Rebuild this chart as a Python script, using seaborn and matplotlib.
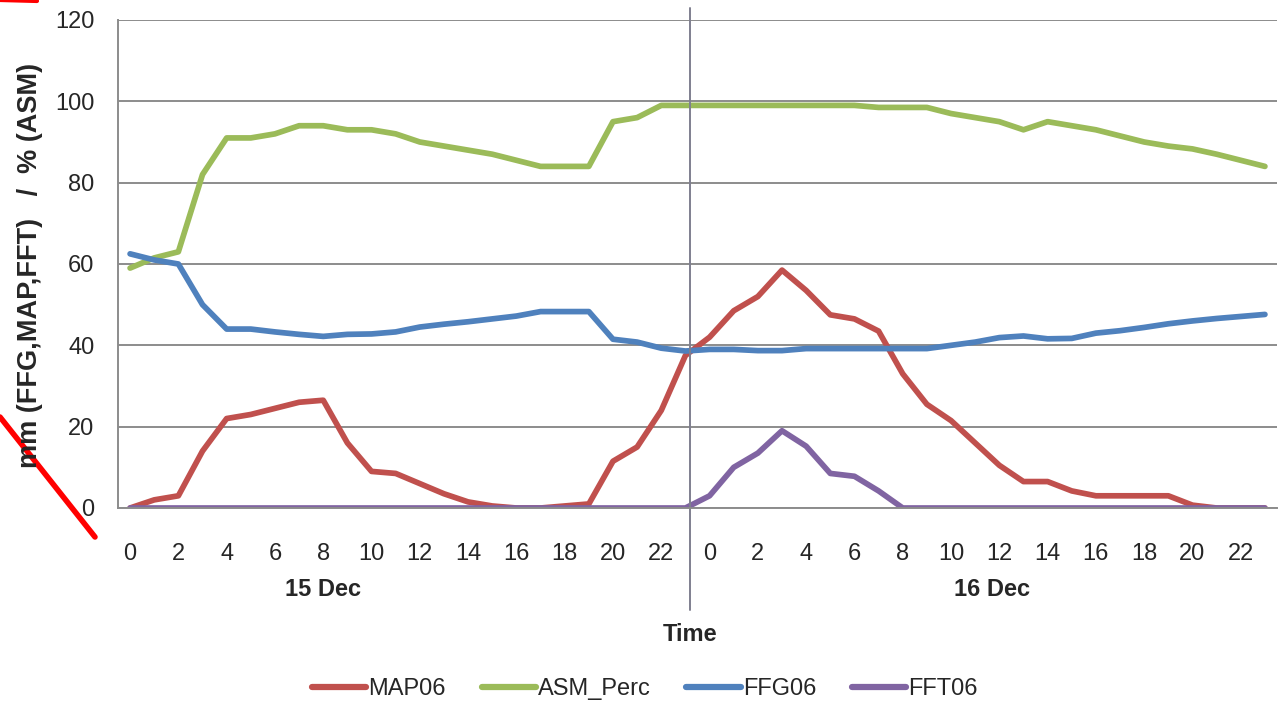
import numpy as np
import pandas as pd
import matplotlib
matplotlib.use("Agg")
import matplotlib.pyplot as plt
import matplotlib.lines as mlines
import seaborn as sns

# hours for the two days (15 Dec, 16 Dec)
hour_labels = [str(h) for h in range(0, 24, 2)] * 2
day_labels = ["15 Dec", "16 Dec"]

map06 = [0, 2, 3, 14, 22, 23, 24.5, 26, 26.5, 16, 9, 8.5, 6, 3.5, 1.5, 0.5, 0, 0, 0.5, 1, 11.5, 15, 24, 37.5,
         42, 48.5, 52, 58.5, 53.5, 47.5, 46.5, 43.5, 33, 25.5, 21.5, 16, 10.5, 6.5, 6.5, 4.2, 3, 3, 3, 3, 0.7, 0, 0, 0]
asm_perc = [59, 61.5, 63, 82, 91, 91, 92, 94, 94, 93, 93, 92, 90, 89, 88, 87, 85.5, 84, 84, 84, 95, 96, 99, 99,
            99, 99, 99, 99, 99, 99, 99, 98.5, 98.5, 98.5, 97, 96, 95, 93, 95, 94, 93, 91.5, 90, 89, 88.3, 87, 85.5, 84]
ffg06 = [62.5, 61, 60, 50, 44, 44, 43.3, 42.7, 42.2, 42.7, 42.8, 43.3, 44.5, 45.2, 45.8, 46.5, 47.2, 48.3, 48.3, 48.3, 41.5, 40.8, 39.3, 38.6,
         39, 39, 38.7, 38.7, 39.2, 39.2, 39.2, 39.2, 39.2, 39.2, 40, 40.8, 41.9, 42.3, 41.6, 41.7, 43, 43.6, 44.4, 45.3, 46, 46.6, 47.1, 47.6]
fft06 = [0] * 24 + [3, 10, 13.5, 19, 15.2, 8.5, 7.8, 4.2, 0, 0, 0, 0, 0, 0, 0, 0, 0, 0, 0, 0, 0, 0, 0, 0]

series_names = ["MAP06", "ASM_Perc", "FFG06", "FFT06"]
colors = ["#C0504D", "#9BBB59", "#4F81BD", "#8064A2"]

step = np.arange(len(map06))
df = pd.DataFrame({"step": step, "MAP06": map06, "ASM_Perc": asm_perc,
                   "FFG06": ffg06, "FFT06": fft06})
long_df = df.melt(id_vars="step", var_name="series", value_name="value")

sns.set_style("white")
plt.rcParams["font.family"] = ["Liberation Sans", "DejaVu Sans"]
fs = 17
txt_c = "#262626"

fig = plt.figure(figsize=(12.82, 7.03), dpi=100)
ax = fig.add_axes([118 / 1282, 195 / 703, (1277 - 118) / 1282, 488 / 703])

sns.lineplot(data=long_df, x="step", y="value", hue="series", hue_order=series_names,
             palette=colors, linewidth=4.1, ax=ax, legend=False)

grid_c = "#8c8c8c"
ax.set_xlim(-0.5, 47.5)
ax.set_ylim(0, 120)
ax.set_yticks(range(0, 121, 20))
ax.yaxis.grid(True, color=grid_c, linewidth=1.4)
ax.set_axisbelow(True)
for s in ["top", "right"]:
    ax.spines[s].set_visible(False)
for s in ["left", "bottom"]:
    ax.spines[s].set_color(grid_c)
    ax.spines[s].set_linewidth(1.4)

ax.set_xticks(range(0, 48, 2))
ax.set_xticklabels(hour_labels)
ax.set_xticks(np.arange(-0.5, 48, 1), minor=True)
ax.tick_params(axis="x", which="major", length=0, pad=25, labelsize=fs, colors=txt_c)
ax.tick_params(axis="x", which="minor", length=6, width=1.2, color=grid_c)
ax.tick_params(axis="y", which="major", length=6, width=1.2, color=grid_c, pad=11,
               labelsize=fs, labelcolor=txt_c)
ax.set_xlabel("")
ax.set_ylabel("")

# day labels and axis titles
ax.text(8, -0.168, day_labels[0], transform=ax.get_xaxis_transform(), ha="center", va="center",
        fontsize=fs, fontweight="bold", color=txt_c)
ax.text(35.7, -0.168, day_labels[1], transform=ax.get_xaxis_transform(), ha="center", va="center",
        fontsize=fs, fontweight="bold", color=txt_c)
ax.text(23.2, -0.26, "Time", transform=ax.get_xaxis_transform(), ha="center", va="center",
        fontsize=fs, fontweight="bold", color=txt_c)
fig.text(30 / 1282, 1 - 265 / 703, "mm (FFG,MAP,FFT)   /  % (ASM)", rotation=90,
         ha="center", va="center", fontsize=19.5, fontweight="bold", color=txt_c)

# day separator
ax.axvline(23.2, ymin=-0.21, ymax=1.025, color="#7f7f8f", linewidth=1.4, clip_on=False)

# legend
handles = [mlines.Line2D([], [], color=c, linewidth=4.5) for c in colors]
fig.legend(handles, series_names, loc="center", bbox_to_anchor=(645 / 1282, 1 - 689 / 703),
           ncol=4, frameon=False, fontsize=fs, handlelength=2.3, handletextpad=0.1,
           columnspacing=1.5, labelcolor=txt_c)

# red annotation strokes
fig.add_artist(mlines.Line2D([0 / 1282, 95 / 1282], [1 - 417 / 703, 1 - 537 / 703],
                             color="#ff0000", linewidth=4, transform=fig.transFigure))
fig.add_artist(mlines.Line2D([0, 37 / 1282], [1, 1 - 1 / 703],
                             color="#ff0000", linewidth=3, transform=fig.transFigure))

fig.savefig("out.png", dpi=100, facecolor="white")
